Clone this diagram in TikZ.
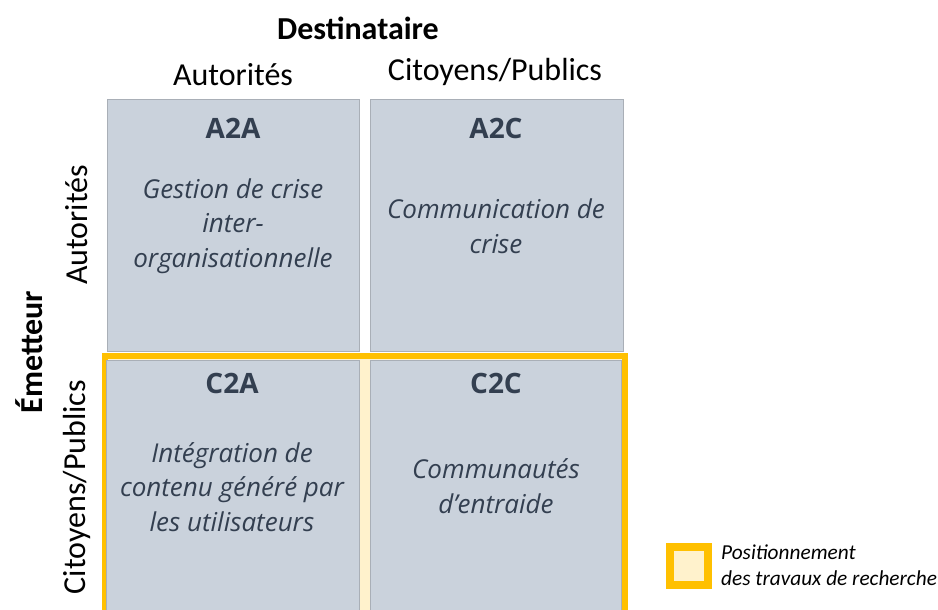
\documentclass[tikz,border=0pt]{standalone}
\usepackage{fontspec}
\setmainfont{Carlito}
\newfontfamily\cellfont{Open Sans}
\definecolor{cellgray}{HTML}{CAD2DC}
\definecolor{cellborder}{HTML}{A9AFB7}
\definecolor{darktxt}{HTML}{333F50}
\definecolor{frameorange}{HTML}{FFC000}
\definecolor{cream}{HTML}{FFF2CC}
\tikzset{
  cell/.style={draw=cellborder, line width=0.8pt, fill=cellgray, inner sep=0pt},
  celltitle/.style={text=darktxt, font=\cellfont\bfseries\fontsize{28}{30}\selectfont, inner sep=0pt},
  celltext/.style={text=darktxt, font=\cellfont\itshape\fontsize{26}{34.5}\selectfont, align=center, inner sep=0pt},
  header/.style={font=\fontsize{32}{36}\selectfont, inner sep=0pt},
  headbold/.style={font=\bfseries\fontsize{32}{36}\selectfont, inner sep=0pt},
  legtext/.style={font=\itshape\fontsize{21.3}{26}\selectfont, align=left, inner sep=0pt, anchor=west}
}
\begin{document}
\begin{tikzpicture}[x=1pt,y=-1pt]
\useasboundingbox (0,0) rectangle (938,610);
\clip (0,0) rectangle (938,610);
% highlight frame
\node[draw=frameorange, line width=6pt, fill=cream, inner sep=0pt, minimum width=520pt, minimum height=290pt] (frame) at (364.5,501) {};
% cells
\node[cell, minimum width=252pt, minimum height=252pt] (a2a) at (233,225) {};
\node[cell, minimum width=253pt, minimum height=252pt] (a2c) at (496.5,225) {};
\node[cell, minimum width=253pt, minimum height=270pt] (c2a) at (232.5,495) {};
\node[cell, minimum width=251pt, minimum height=270pt] (c2c) at (495.5,495) {};
% titles
\node[celltitle] (t1) at (233,128) {A2A};
\node[celltitle] (t2) at (496,128) {A2C};
\node[celltitle] (t3) at (232,383) {C2A};
\node[celltitle] (t4) at (496,383) {C2C};
% texts
\node[celltext] (x1) at (233,226) {Gestion de crise\\inter-\\organisationnelle};
\node[celltext] (x2) at (496,226) {Communication de\\crise};
\node[celltext] (x3) at (232,487) {Intégration de\\contenu généré par\\les utilisateurs};
\node[celltext] (x4) at (496,486) {Communautés\\d’entraide};
% headers
\node[headbold] (dest) at (358,28) {Destinataire};
\node[header] (hA) at (233,75) {Autorités};
\node[header] (hC) at (495,72) {Citoyens/Publics};
\node[headbold, rotate=90] (emet) at (29,352) {Émetteur};
\node[header, rotate=90] (vA) at (77,225) {Autorités};
\node[header, rotate=90] (vC) at (77,487) {Citoyens/Publics};
% legend
\node[draw=frameorange, line width=8pt, fill=cream, inner sep=0pt, minimum size=38pt] (legbox) at (689,565.5) {};
\node[legtext] (legt) at (721,565.5) {Positionnement\\des travaux de recherche};
\end{tikzpicture}
\end{document}
